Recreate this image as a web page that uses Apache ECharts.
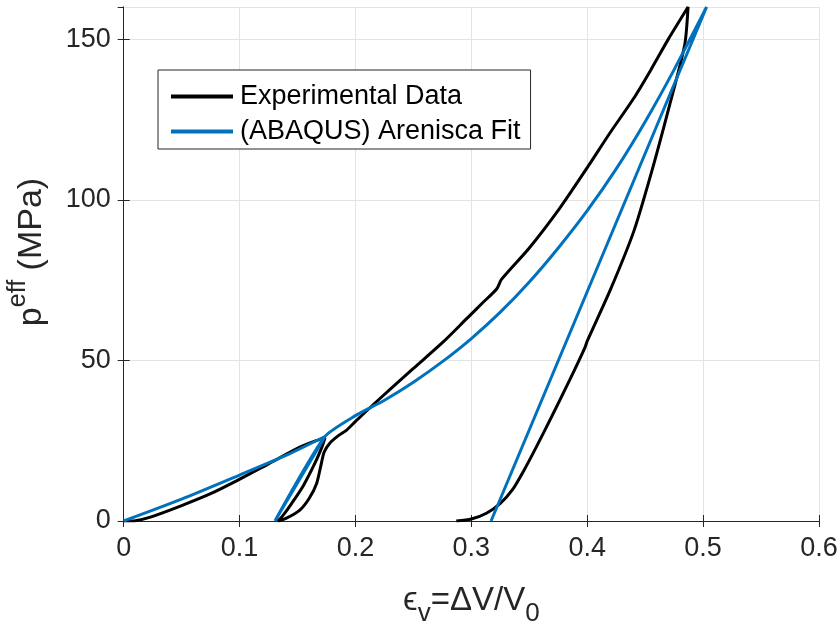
<!DOCTYPE html>
<html>
<head>
<meta charset="utf-8">
<script src="https://cdn.jsdelivr.net/npm/echarts@6/dist/echarts.min.js"></script>
<style>html,body{margin:0;padding:0;background:#fff}#c{width:838px;height:625px}</style>
</head>
<body>
<div id="c"></div>
<script>
// Experimental data (volumetric strain, effective pressure MPa), in test order
const expStrain = [0, 0.01, 0.023, 0.05, 0.075, 0.099, 0.125, 0.152, 0.166, 0.1737,
  0.171, 0.165, 0.155, 0.145, 0.138, 0.133,
  0.14, 0.152, 0.16, 0.1665, 0.17, 0.173, 0.178, 0.185, 0.1924, 0.2, 0.2183, 0.25, 0.275, 0.296, 0.31, 0.322, 0.326, 0.35, 0.3765, 0.4, 0.42, 0.44, 0.455, 0.47, 0.487,
  0.484, 0.47, 0.455, 0.44, 0.42, 0.40, 0.398, 0.385, 0.37, 0.356, 0.345, 0.336, 0.325, 0.313, 0.3, 0.287];
const expPressure = [0, 0.1, 1.2, 4.8, 8.5, 12.8, 17.8, 23, 25, 25.8,
  23, 18, 11, 5.5, 2, 0,
  0.8, 3.4, 7, 11.7, 17, 21.5, 24.3, 26.5, 28.3, 31, 37.2, 47.5, 55.5, 63, 68, 72.3, 75.2, 85, 97.5, 110, 121, 131.5, 140.5, 150, 160,
  148, 128, 108, 90, 72, 56, 54, 44, 33, 23, 15.5, 10, 5.5, 2.4, 0.6, 0];
// ABAQUS Arenisca fit
const fitStrain = [0, 0.05, 0.1, 0.14, 0.1737, 0.1305, 0.1737, 0.2, 0.225, 0.25, 0.275, 0.3, 0.325, 0.35, 0.375, 0.4, 0.425, 0.45, 0.475, 0.503, 0.317];
const fitPressure = [0, 6.8, 14.3, 20.4, 26.3, 0, 26.3, 32.8, 37.6, 43.2, 49.6, 56.8, 65, 74.4, 85, 96.6, 109.6, 124.3, 140.5, 160, 0];
const xTicks = [0, 0.1, 0.2, 0.3, 0.4, 0.5, 0.6];
const yTicks = [0, 50, 100, 150];
const seriesNames = ['Experimental Data', '(ABAQUS) Arenisca Fit'];

const expData = expStrain.map((x, i) => [x, expPressure[i]]);
const fitData = fitStrain.map((x, i) => [x, fitPressure[i]]);

const FONT = 'Liberation Sans, Arial, sans-serif';
const axisColor = '#262626';
const labelColor = '#262626';

const chart = echarts.init(document.getElementById('c'), null, {renderer: 'canvas'});
const commonX = {
  type: 'value', min: xTicks[0], max: xTicks[xTicks.length - 1], interval: 0.1,
  axisLine: {show: true, lineStyle: {color: axisColor, width: 1}},
  axisTick: {show: true, inside: true, length: 6, lineStyle: {color: axisColor}},
  splitLine: {show: false}
};
const commonY = {
  type: 'value', min: yTicks[0], max: 160, interval: 50,
  axisLine: {show: true, lineStyle: {color: axisColor, width: 1}},
  axisTick: {show: true, inside: true, length: 6, lineStyle: {color: axisColor}},
  splitLine: {show: false}
};
chart.setOption({
  backgroundColor: '#fff',
  animation: false,
  grid: {left: 123.7, right: 19, top: 7, bottom: 104, containLabel: false, outerBoundsMode: 'none'},
  legend: {
    data: seriesNames,
    orient: 'vertical', left: 158, top: 70,
    padding: [13, 10, 4, 13],
    borderColor: axisColor, borderWidth: 1, backgroundColor: '#fff',
    itemWidth: 62, itemHeight: 4, itemGap: 8,
    icon: 'rect',
    textStyle: {fontFamily: FONT, fontSize: 27, color: '#000', padding: [0, 0, 0, 2]}
  },
  xAxis: [
    Object.assign({}, commonX, {
      position: 'bottom',
      splitLine: {show: true, lineStyle: {color: '#e3e3e3', width: 1}},
      axisLabel: {fontFamily: FONT, fontSize: 27, color: labelColor, margin: 14,
        formatter: v => String(v)},
      name: '{a|ϵ}{sub|v}{a|=ΔV/V}{sub|0}',
      nameLocation: 'middle', nameGap: 54,
      nameTextStyle: {
        rich: {
          a: {fontFamily: FONT, fontSize: 33, color: labelColor, lineHeight: 36, verticalAlign: 'middle'},
          sub: {fontFamily: FONT, fontSize: 26, color: labelColor, lineHeight: 52, verticalAlign: 'bottom'}
        }
      }
    }),
    Object.assign({}, commonX, {position: 'top', axisLabel: {show: false}})
  ],
  yAxis: [
    Object.assign({}, commonY, {
      position: 'left',
      splitLine: {show: true, lineStyle: {color: '#e3e3e3', width: 1}},
      axisLabel: {fontFamily: FONT, fontSize: 27, color: labelColor, margin: 13, showMaxLabel: false},
      name: '{a|p}{sup|eff}{a| (MPa)}',
      nameLocation: 'middle', nameGap: 66, nameRotate: 90,
      nameTextStyle: {
        padding: [0, 0, 0, 24],
        rich: {
          a: {fontFamily: FONT, fontSize: 34, color: labelColor, lineHeight: 36, verticalAlign: 'middle'},
          sup: {fontFamily: FONT, fontSize: 25, color: labelColor, lineHeight: 52, verticalAlign: 'top'}
        }
      }
    }),
    Object.assign({}, commonY, {position: 'right', axisLabel: {show: false}})
  ],
  series: [
    {name: seriesNames[0], type: 'line', data: expData, showSymbol: false, symbol: 'none',
      smooth: 0.25, lineStyle: {color: '#000000', width: 3}, itemStyle: {color: '#000000'}, z: 2},
    {name: seriesNames[1], type: 'line', data: fitData, showSymbol: false, symbol: 'none',
      smooth: 0.2, lineStyle: {color: '#0072BD', width: 3}, itemStyle: {color: '#0072BD'}, z: 3}
  ]
});
</script>
</body>
</html>
